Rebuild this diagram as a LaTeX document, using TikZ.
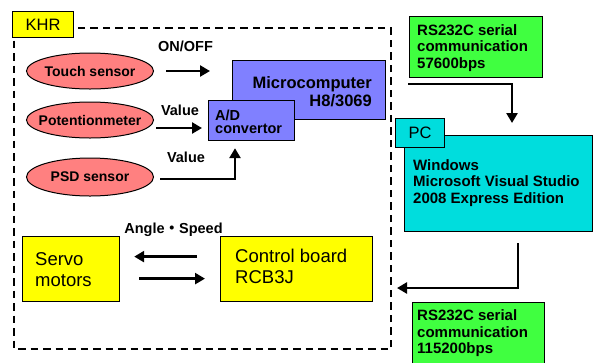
\documentclass[tikz,border=0pt]{standalone}
\usepackage{fontspec}
\setmainfont{Liberation Sans}
\newfontfamily\jpfont{Noto Sans CJK JP}
\usetikzlibrary{arrows.meta,shapes.geometric,calc}

\definecolor{sensorpink}{HTML}{FF8080}
\definecolor{mcublue}{HTML}{8080FF}
\definecolor{boardyellow}{HTML}{FFFF00}
\definecolor{linkgreen}{HTML}{40FF40}
\definecolor{pccyan}{HTML}{00DDDD}

% sensor text is set in a zero-width box so the ellipse keeps its given size
\newcommand{\sensorname}[1]{\makebox[0pt]{#1}}

\tikzset{
  sensor/.style={ellipse, draw, fill=sensorpink, line width=1pt,
    minimum width=127pt, minimum height=36pt, inner sep=0pt,
    font=\bfseries\fontsize{14}{16}\selectfont},
  blockbox/.style={draw, line width=1.2pt, anchor=north west, inner sep=0pt},
  blocktext/.style={anchor=north west, inner sep=0pt, align=left},
  lbl/.style={inner sep=0pt, font=\bfseries\fontsize{14.5}{16}\selectfont},
  bodybold/.style={font=\bfseries\fontsize{15}{16.5}\selectfont},
  bigtext/.style={font=\fontsize{18.5}{21}\selectfont},
  tagtext/.style={font=\fontsize{16.5}{18}\selectfont},
  flow/.style={line width=2.6pt, -{Triangle[length=10pt,width=11pt]}},
  groupline/.style={dash pattern=on 7.5pt off 5pt, line width=1.3pt}
}

\begin{document}
\begin{tikzpicture}[x=1pt,y=-1pt]
\useasboundingbox (0,0) rectangle (593,362);
\clip (0,0) rectangle (593,362);

% robot group outline
\draw[groupline] (14,28) rectangle (391,349);
\node[blockbox, fill=boardyellow, minimum width=61pt, minimum height=26pt, tagtext] (khr) at (12,11) {KHR};

% sensors
\node[sensor] (touch) at (90,71) {\sensorname{Touch sensor}};
\node[sensor] (pot)   at (90,120) {\sensorname{Potentionmeter}};
\node[sensor, minimum height=38pt] (psd) at (90,177) {\sensorname{PSD sensor}};

% microcomputer and A/D convertor
\node[blockbox, fill=mcublue, minimum width=153pt, minimum height=59pt] (mcu) at (232,60) {};
\node[blocktext, anchor=north east, align=right,
      font=\bfseries\fontsize{16.5}{18}\selectfont] (mcutext) at (372,76) {Microcomputer\\H8/3069};
\node[blockbox, fill=mcublue, minimum width=86pt, minimum height=40pt] (adc) at (208,100) {};
\node[blocktext, font=\bfseries\fontsize{14.5}{13.5}\selectfont] (adctext) at (215,109.5) {A/D\\convertor};

% servo motors and control board
\node[blockbox, fill=boardyellow, minimum width=97pt, minimum height=65pt] (servo) at (22,236) {};
\node[blocktext, bigtext] (servotext) at (35,252.5) {Servo\\motors};
\node[blockbox, fill=boardyellow, minimum width=152pt, minimum height=65pt] (ctrl) at (220,236) {};
\node[blocktext, bigtext] (ctrltext) at (235,248.5) {Control board\\RCB3J};

% PC
\node[blockbox, fill=pccyan, minimum width=188pt, minimum height=96pt] (pc) at (404,135) {};
\node[blockbox, fill=pccyan, minimum width=49pt, minimum height=29pt, tagtext] (pclabel) at (395,118) {PC};
\node[blocktext, bodybold] (pctext) at (413,159)
  {Windows\\Microsoft Visual Studio\\2008 Express Edition};

% serial links
\node[blockbox, fill=linkgreen, minimum width=133pt, minimum height=61pt] (link1) at (409,16) {};
\node[blocktext, bodybold] (link1text) at (417,24)
  {RS232C serial\\communication\\57600bps};
\node[blockbox, fill=linkgreen, minimum width=132pt, minimum height=70pt] (link2) at (412,302) {};
\node[blocktext, bodybold] (link2text) at (417,309.5)
  {RS232C serial\\communication\\115200bps};

% signal labels
\node[lbl] (onoff)  at (185.5,46) {ON/OFF};
\node[lbl] (value1) at (180,110) {Value};
\node[lbl] (value2) at (186,157) {Value};
\node[lbl] (anglespeed) at (173.5,230) {Angle{\jpfont ・}Speed};

% ports on the robot boundary and arrow start points
\coordinate (mcuport) at (408,84);
\coordinate (khrport) at (397,288);
\coordinate (potout) at ($(pot.east)+(2,8)$);
\coordinate (psdout) at ($(psd.east)+(6,2)$);
\coordinate (adcin) at ($(adc.south west)+(27,0)$);
\coordinate (pcin) at ($(pc.north west)+(108,0)$);
\coordinate (pcout) at ($(pc.south west)+(114,0)$);
\coordinate (ctrlout) at ($(ctrl.west)+(0,-12.5)$);
\coordinate (servoout) at ($(servo.east)+(0,9.5)$);

% connectors
\draw[flow, shorten <=12pt, shorten >=22pt] (touch.east) -- (touch.east -| mcu.west);
\draw[flow, shorten >=6pt] (potout) -- (potout -| adc.west);
\draw[flow, shorten >=7pt] (psdout) -| (adcin);
\draw[flow, shorten >=12pt] (mcuport) -| (pcin);
\draw[flow, shorten <=11pt] (pcout) |- (khrport);
\draw[flow, shorten <=23pt, shorten >=14pt] (ctrlout) -- (ctrlout -| servo.east);
\draw[flow, shorten <=19pt, shorten >=15pt] (servoout) -- (servoout -| ctrl.west);
\end{tikzpicture}
\end{document}
